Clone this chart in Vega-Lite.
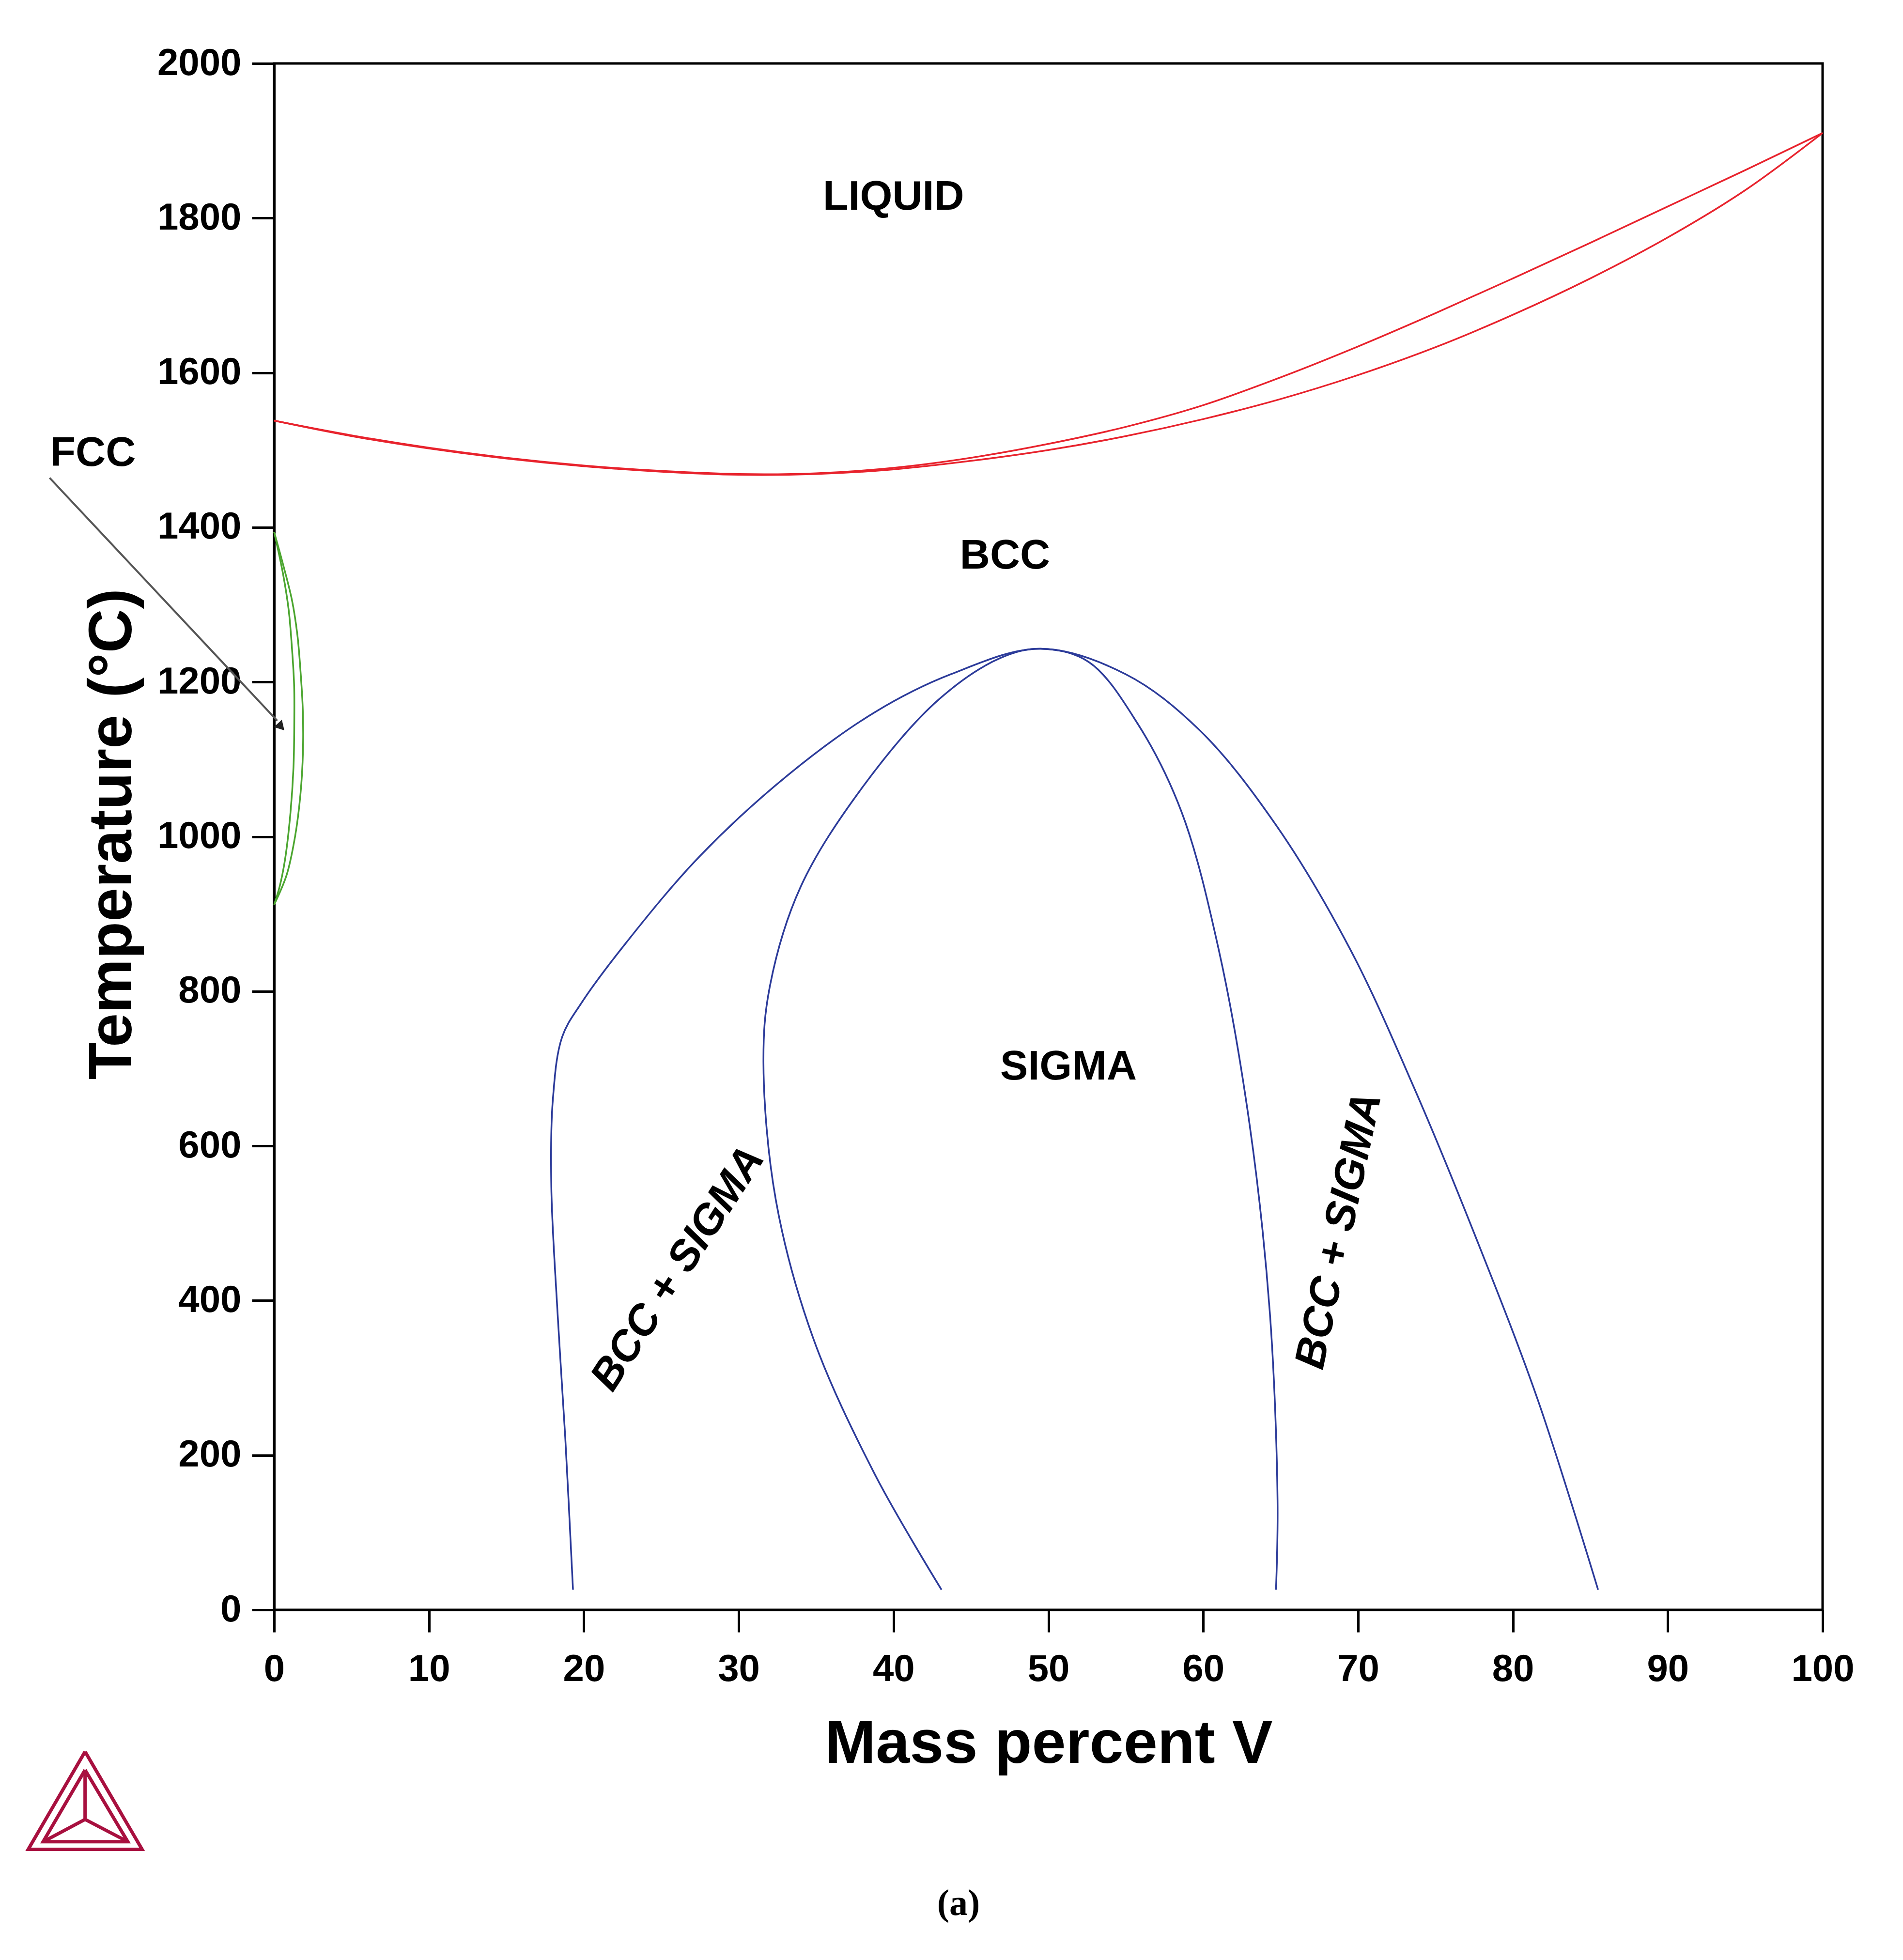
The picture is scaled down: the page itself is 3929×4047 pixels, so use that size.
{
  "$schema": "https://vega.github.io/schema/vega-lite/v6.json",
  "width": 3197,
  "height": 3193,
  "autosize": "none",
  "padding": {"left": 566, "top": 131, "right": 166, "bottom": 723},
  "background": "white",
  "config": {
    "view": {"stroke": "black", "strokeWidth": 5},
    "axis": {
      "domainColor": "black", "domainWidth": 5,
      "tickColor": "black", "tickWidth": 5, "tickSize": 46,
      "grid": false,
      "labelFont": "Liberation Sans", "labelFontWeight": "bold", "labelFontSize": 78, "labelColor": "black", "labelLimit": 0,
      "titleFont": "Liberation Sans", "titleFontWeight": "bold", "titleFontSize": 126, "titleColor": "black", "titleLimit": 0,
      "labelOverlap": false, "labelFlush": false, "labelBound": false, "format": "d"
    }
  },
  "datasets": {
    "curves": [
      {"c": "liq", "g": "red", "o": 0, "x": 0, "T": 1538},
      {"c": "liq", "g": "red", "o": 1, "x": 5, "T": 1519},
      {"c": "liq", "g": "red", "o": 2, "x": 10, "T": 1503},
      {"c": "liq", "g": "red", "o": 3, "x": 15, "T": 1490},
      {"c": "liq", "g": "red", "o": 4, "x": 20, "T": 1480},
      {"c": "liq", "g": "red", "o": 5, "x": 25, "T": 1473},
      {"c": "liq", "g": "red", "o": 6, "x": 30, "T": 1469},
      {"c": "liq", "g": "red", "o": 7, "x": 35, "T": 1470},
      {"c": "liq", "g": "red", "o": 8, "x": 40, "T": 1477},
      {"c": "liq", "g": "red", "o": 9, "x": 45, "T": 1490},
      {"c": "liq", "g": "red", "o": 10, "x": 50, "T": 1508},
      {"c": "liq", "g": "red", "o": 11, "x": 55, "T": 1530},
      {"c": "liq", "g": "red", "o": 12, "x": 60, "T": 1558},
      {"c": "liq", "g": "red", "o": 13, "x": 65, "T": 1594},
      {"c": "liq", "g": "red", "o": 14, "x": 70, "T": 1634},
      {"c": "liq", "g": "red", "o": 15, "x": 75, "T": 1677},
      {"c": "liq", "g": "red", "o": 16, "x": 80, "T": 1722},
      {"c": "liq", "g": "red", "o": 17, "x": 85, "T": 1768},
      {"c": "liq", "g": "red", "o": 18, "x": 90, "T": 1815},
      {"c": "liq", "g": "red", "o": 19, "x": 95, "T": 1862},
      {"c": "liq", "g": "red", "o": 20, "x": 100, "T": 1910},
      {"c": "sol", "g": "red", "o": 0, "x": 0, "T": 1538},
      {"c": "sol", "g": "red", "o": 1, "x": 5, "T": 1518},
      {"c": "sol", "g": "red", "o": 2, "x": 10, "T": 1502},
      {"c": "sol", "g": "red", "o": 3, "x": 15, "T": 1489},
      {"c": "sol", "g": "red", "o": 4, "x": 20, "T": 1479},
      {"c": "sol", "g": "red", "o": 5, "x": 25, "T": 1472},
      {"c": "sol", "g": "red", "o": 6, "x": 30, "T": 1468},
      {"c": "sol", "g": "red", "o": 7, "x": 35, "T": 1469},
      {"c": "sol", "g": "red", "o": 8, "x": 40, "T": 1475},
      {"c": "sol", "g": "red", "o": 9, "x": 45, "T": 1486},
      {"c": "sol", "g": "red", "o": 10, "x": 50, "T": 1500},
      {"c": "sol", "g": "red", "o": 11, "x": 55, "T": 1518},
      {"c": "sol", "g": "red", "o": 12, "x": 60, "T": 1540},
      {"c": "sol", "g": "red", "o": 13, "x": 65, "T": 1566},
      {"c": "sol", "g": "red", "o": 14, "x": 70, "T": 1597},
      {"c": "sol", "g": "red", "o": 15, "x": 75, "T": 1633},
      {"c": "sol", "g": "red", "o": 16, "x": 80, "T": 1675},
      {"c": "sol", "g": "red", "o": 17, "x": 85, "T": 1722},
      {"c": "sol", "g": "red", "o": 18, "x": 90, "T": 1775},
      {"c": "sol", "g": "red", "o": 19, "x": 95, "T": 1836},
      {"c": "sol", "g": "red", "o": 20, "x": 100, "T": 1910},
      {"c": "fccO", "g": "green", "o": 0, "x": 0, "T": 1394},
      {"c": "fccO", "g": "green", "o": 1, "x": 0.59, "T": 1351},
      {"c": "fccO", "g": "green", "o": 2, "x": 1.15, "T": 1306},
      {"c": "fccO", "g": "green", "o": 3, "x": 1.5, "T": 1261},
      {"c": "fccO", "g": "green", "o": 4, "x": 1.71, "T": 1212},
      {"c": "fccO", "g": "green", "o": 5, "x": 1.85, "T": 1164},
      {"c": "fccO", "g": "green", "o": 6, "x": 1.86, "T": 1110},
      {"c": "fccO", "g": "green", "o": 7, "x": 1.7, "T": 1055},
      {"c": "fccO", "g": "green", "o": 8, "x": 1.35, "T": 1000},
      {"c": "fccO", "g": "green", "o": 9, "x": 0.8, "T": 950},
      {"c": "fccO", "g": "green", "o": 10, "x": 0, "T": 912},
      {"c": "fccI", "g": "green", "o": 0, "x": 0, "T": 1394},
      {"c": "fccI", "g": "green", "o": 1, "x": 0.59, "T": 1338},
      {"c": "fccI", "g": "green", "o": 2, "x": 0.94, "T": 1293},
      {"c": "fccI", "g": "green", "o": 3, "x": 1.15, "T": 1244},
      {"c": "fccI", "g": "green", "o": 4, "x": 1.29, "T": 1196},
      {"c": "fccI", "g": "green", "o": 5, "x": 1.3, "T": 1148},
      {"c": "fccI", "g": "green", "o": 6, "x": 1.25, "T": 1090},
      {"c": "fccI", "g": "green", "o": 7, "x": 1.05, "T": 1030},
      {"c": "fccI", "g": "green", "o": 8, "x": 0.7, "T": 970},
      {"c": "fccI", "g": "green", "o": 9, "x": 0.35, "T": 935},
      {"c": "fccI", "g": "green", "o": 10, "x": 0, "T": 912},
      {"c": "b1", "g": "blue", "o": 0, "x": 19.3, "T": 26},
      {"c": "b1", "g": "blue", "o": 1, "x": 18.8, "T": 223},
      {"c": "b1", "g": "blue", "o": 2, "x": 18.3, "T": 385},
      {"c": "b1", "g": "blue", "o": 3, "x": 17.9, "T": 547},
      {"c": "b1", "g": "blue", "o": 4, "x": 18.0, "T": 660},
      {"c": "b1", "g": "blue", "o": 5, "x": 18.6, "T": 741},
      {"c": "b1", "g": "blue", "o": 6, "x": 19.85, "T": 785},
      {"c": "b1", "g": "blue", "o": 7, "x": 22.7, "T": 862},
      {"c": "b1", "g": "blue", "o": 8, "x": 27.5, "T": 975},
      {"c": "b1", "g": "blue", "o": 9, "x": 33.2, "T": 1080},
      {"c": "b1", "g": "blue", "o": 10, "x": 38.8, "T": 1161},
      {"c": "b1", "g": "blue", "o": 11, "x": 43.7, "T": 1210},
      {"c": "b1", "g": "blue", "o": 12, "x": 49.5, "T": 1243},
      {"c": "b1", "g": "blue", "o": 13, "x": 55.0, "T": 1210},
      {"c": "b1", "g": "blue", "o": 14, "x": 59.8, "T": 1137},
      {"c": "b1", "g": "blue", "o": 15, "x": 64.7, "T": 1015},
      {"c": "b1", "g": "blue", "o": 16, "x": 69.5, "T": 854},
      {"c": "b1", "g": "blue", "o": 17, "x": 73.6, "T": 676},
      {"c": "b1", "g": "blue", "o": 18, "x": 77.6, "T": 482},
      {"c": "b1", "g": "blue", "o": 19, "x": 81.6, "T": 272},
      {"c": "b1", "g": "blue", "o": 20, "x": 85.5, "T": 26},
      {"c": "b2", "g": "blue", "o": 0, "x": 43.1, "T": 26},
      {"c": "b2", "g": "blue", "o": 1, "x": 38.8, "T": 175},
      {"c": "b2", "g": "blue", "o": 2, "x": 34.8, "T": 352},
      {"c": "b2", "g": "blue", "o": 3, "x": 32.4, "T": 530},
      {"c": "b2", "g": "blue", "o": 4, "x": 31.6, "T": 708},
      {"c": "b2", "g": "blue", "o": 5, "x": 32.0, "T": 805},
      {"c": "b2", "g": "blue", "o": 6, "x": 34.0, "T": 935},
      {"c": "b2", "g": "blue", "o": 7, "x": 38.0, "T": 1064},
      {"c": "b2", "g": "blue", "o": 8, "x": 42.9, "T": 1177},
      {"c": "b2", "g": "blue", "o": 9, "x": 46.9, "T": 1231},
      {"c": "b2", "g": "blue", "o": 10, "x": 49.5, "T": 1243},
      {"c": "b2", "g": "blue", "o": 11, "x": 52.6, "T": 1226},
      {"c": "b2", "g": "blue", "o": 12, "x": 55.8, "T": 1145},
      {"c": "b2", "g": "blue", "o": 13, "x": 58.6, "T": 1032},
      {"c": "b2", "g": "blue", "o": 14, "x": 61.0, "T": 854},
      {"c": "b2", "g": "blue", "o": 15, "x": 63.0, "T": 627},
      {"c": "b2", "g": "blue", "o": 16, "x": 64.3, "T": 385},
      {"c": "b2", "g": "blue", "o": 17, "x": 64.8, "T": 142},
      {"c": "b2", "g": "blue", "o": 18, "x": 64.7, "T": 26}
    ],
    "logo": [
      {"p": "outer", "o": 0, "x": -12.21, "T": -183.4},
      {"p": "outer", "o": 1, "x": -8.53, "T": -309.7},
      {"p": "outer", "o": 2, "x": -15.88, "T": -309.7},
      {"p": "outer", "o": 3, "x": -12.21, "T": -183.4},
      {"p": "inner", "o": 0, "x": -12.21, "T": -207.0},
      {"p": "inner", "o": 1, "x": -9.45, "T": -299.9},
      {"p": "inner", "o": 2, "x": -14.92, "T": -299.9},
      {"p": "inner", "o": 3, "x": -12.21, "T": -207.0},
      {"p": "y1", "o": 0, "x": -12.21, "T": -207.0},
      {"p": "y1", "o": 1, "x": -12.21, "T": -271.0},
      {"p": "y2", "o": 0, "x": -14.92, "T": -299.9},
      {"p": "y2", "o": 1, "x": -12.21, "T": -271.0},
      {"p": "y2", "o": 2, "x": -9.45, "T": -299.9}
    ],
    "labels": [
      {"text": "LIQUID", "x": 40.0, "T": 1827},
      {"text": "BCC", "x": 47.2, "T": 1363},
      {"text": "SIGMA", "x": 51.3, "T": 702},
      {"text": "FCC", "x": -11.7, "T": 1496}
    ],
    "rot": [
      {"text": "BCC + SIGMA", "x": 26.1, "T": 441, "a": -57},
      {"text": "BCC + SIGMA", "x": 68.8, "T": 490, "a": -78}
    ],
    "arrow": [{"x": -14.5, "T": 1464, "x2": 0.2, "T2": 1150}],
    "head": [{"x": 0.45, "T": 1142}],
    "caption": [{"text": "(a)", "x": 44.2, "T": -380}]
  },
  "layer": [
    {
      "data": {"name": "curves"},
      "mark": {"type": "line", "strokeWidth": 3.5, "interpolate": "catmull-rom"},
      "encoding": {
        "x": {"field": "x", "type": "quantitative", "scale": {"domain": [0, 100], "nice": false, "zero": false},
              "axis": {"values": [0, 10, 20, 30, 40, 50, 60, 70, 80, 90, 100], "title": "Mass percent V", "labelPadding": 38,
                       "titleX": 1599, "titleY": 315, "titleBaseline": "alphabetic", "titleAlign": "center"}},
        "y": {"field": "T", "type": "quantitative", "scale": {"domain": [0, 2000], "nice": false, "zero": false},
              "axis": {"values": [0, 200, 400, 600, 800, 1000, 1200, 1400, 1600, 1800, 2000], "title": "Temperature (°C)", "labelPadding": 22,
                       "titleX": -296, "titleY": 1591, "titleAngle": -90, "titleBaseline": "alphabetic", "titleAlign": "center"}},
        "color": {"field": "g", "type": "nominal", "scale": {"domain": ["red", "green", "blue"], "range": ["#e8232d", "#4ca630", "#2c3b9a"]}, "legend": null},
        "detail": {"field": "c"},
        "order": {"field": "o", "type": "quantitative"}
      }
    },
    {
      "data": {"name": "logo"},
      "mark": {"type": "line", "strokeWidth": 7, "color": "#a8103f", "strokeJoin": "miter"},
      "encoding": {
        "x": {"field": "x", "type": "quantitative"},
        "y": {"field": "T", "type": "quantitative"},
        "detail": {"field": "p"},
        "order": {"field": "o", "type": "quantitative"}
      }
    },
    {
      "data": {"name": "arrow"},
      "mark": {"type": "rule", "strokeWidth": 4, "color": "#555555"},
      "encoding": {
        "x": {"field": "x", "type": "quantitative"},
        "y": {"field": "T", "type": "quantitative"},
        "x2": {"field": "x2"},
        "y2": {"field": "T2"}
      }
    },
    {
      "data": {"name": "head"},
      "mark": {"type": "point", "shape": "triangle-right", "filled": true, "color": "#222222", "size": 500, "angle": 47, "opacity": 1},
      "encoding": {
        "x": {"field": "x", "type": "quantitative"},
        "y": {"field": "T", "type": "quantitative"}
      }
    },
    {
      "data": {"name": "labels"},
      "mark": {"type": "text", "font": "Liberation Sans", "fontWeight": "bold", "fontSize": 86, "color": "black", "align": "center", "baseline": "middle"},
      "encoding": {
        "x": {"field": "x", "type": "quantitative"},
        "y": {"field": "T", "type": "quantitative"},
        "text": {"field": "text"}
      }
    },
    {
      "data": {"name": "rot"},
      "mark": {"type": "text", "font": "Liberation Sans", "fontWeight": "bold", "fontStyle": "italic", "fontSize": 88, "color": "black", "align": "center", "baseline": "middle"},
      "encoding": {
        "x": {"field": "x", "type": "quantitative"},
        "y": {"field": "T", "type": "quantitative"},
        "text": {"field": "text"},
        "angle": {"field": "a", "type": "quantitative", "scale": null}
      }
    },
    {
      "data": {"name": "caption"},
      "mark": {"type": "text", "font": "Liberation Serif", "fontWeight": "bold", "fontSize": 76, "color": "black", "align": "center", "baseline": "middle"},
      "encoding": {
        "x": {"field": "x", "type": "quantitative"},
        "y": {"field": "T", "type": "quantitative"},
        "text": {"field": "text"}
      }
    }
  ]
}
